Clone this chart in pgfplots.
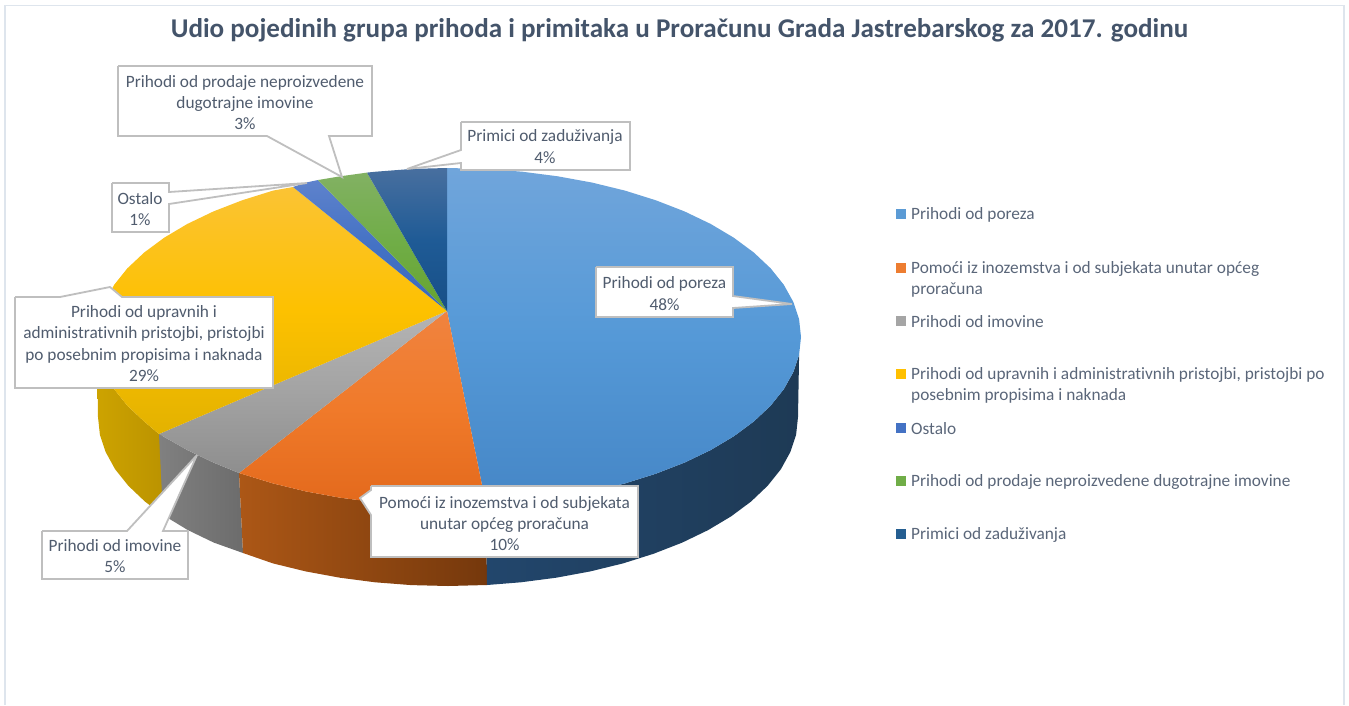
\documentclass[border=0pt]{standalone}
\usepackage{pgfplots}
\pgfplotsset{compat=1.18}
\usepackage{fontspec}
\setmainfont[Ligatures=NoCommon]{Carlito}
\definecolor{txt}{HTML}{505C6E}
\definecolor{ttl}{HTML}{44546A}
\definecolor{leg}{HTML}{5A6679}
\definecolor{cal}{HTML}{BFBFBF}
\definecolor{frm}{HTML}{DEE5ED}
\definecolor{wYl}{HTML}{CDA300}\definecolor{wYr}{HTML}{BB9300}
\definecolor{wGl}{HTML}{808080}\definecolor{wGr}{HTML}{6C6C6C}
\definecolor{wOl}{HTML}{AC5716}\definecolor{wOr}{HTML}{75380C}
\definecolor{wBl}{HTML}{22466C}\definecolor{wBr}{HTML}{1E3A55}
\definecolor{tB1}{HTML}{70A5DB}\definecolor{tB2}{HTML}{5599D7}\definecolor{tB3}{HTML}{4586C6}
\definecolor{tO1}{HTML}{F0833F}\definecolor{tO2}{HTML}{F07A2A}\definecolor{tO3}{HTML}{E3691C}
\definecolor{tG1}{HTML}{B4B4B4}\definecolor{tG2}{HTML}{A3A3A3}\definecolor{tG3}{HTML}{8E8E8E}
\definecolor{tY1}{HTML}{FBC334}\definecolor{tY2}{HTML}{FDC100}\definecolor{tY3}{HTML}{E3B200}
\definecolor{tS1}{HTML}{5E82CC}\definecolor{tS2}{HTML}{4472C4}\definecolor{tS3}{HTML}{3A67BC}
\definecolor{tN1}{HTML}{82B163}\definecolor{tN2}{HTML}{70AD47}\definecolor{tN3}{HTML}{66A32F}
\definecolor{tD1}{HTML}{486F9F}\definecolor{tD2}{HTML}{1F5B96}\definecolor{tD3}{HTML}{174F87}
\definecolor{mB}{HTML}{5B9BD5}\definecolor{mO}{HTML}{ED7D31}\definecolor{mG}{HTML}{A5A5A5}
\definecolor{mY}{HTML}{FFC000}\definecolor{mS}{HTML}{4472C4}\definecolor{mN}{HTML}{70AD47}\definecolor{mD}{HTML}{255E91}
\pgfplotsset{wedge/.style={no markers, draw=none},
  callout/.style={no markers, fill=white, draw=cal, line width=1.8pt, line join=miter, miter limit=3}}
\tikzset{lab/.style={text=txt, inner sep=0pt, align=center, font=\fontsize{17.3}{21.3}\selectfont},
  lgd/.style={text=leg, inner sep=0pt, align=left, anchor=west, font=\fontsize{17.3}{21.3}\selectfont}}
\begin{document}
\begin{tikzpicture}
\begin{axis}[
  scale only axis, width=1349pt, height=705pt,
  xmin=0, xmax=1349, ymin=0, ymax=705, y dir=reverse,
  hide axis, clip=true,
]
% page extent
\addplot[no markers, draw=white, line width=0.1pt] coordinates {(0,0) (1349,705)};
% frame
\addplot[no markers, draw=frm, line width=1.8pt] coordinates {(5,705) (5,5.5) (1344,5.5) (1344,705)};
% --- side walls ---
\addplot[wedge, left color=wYl, right color=wYr] coordinates {
 (159,434) (144.2,421.5) (127.4,405.7) (114.2,389.2) (104.7,372.1) (98.9,354.7) (97,345)
 (98,417) (99.9,434.7) (105.7,452.1) (115.1,469.2) (128.3,485.7) (144.9,501.5) (163,515) (163,434) (159,434)};
\addplot[wedge, left color=wGl, right color=wGr] coordinates {
 (159,434) (187.4,450.1) (213.5,462.6) (239,473) (243,553) (213.8,542.6) (187.9,530.1) (163,515) (159,434)};
\addplot[wedge, left color=wOl, right color=wOr] coordinates {
 (239,473) (273,483.4) (305.8,491.4) (340.2,497.7) (375.8,502.3) (412.2,505.1) (449,506) (486,505)
 (487,585) (448,586) (411.4,585.1) (375.2,582.3) (339.9,577.7) (305.7,571.4) (273,563.4) (243,553) (239,473)};
\addplot[wedge, left color=wBl, right color=wBr] coordinates {
 (486,505) (522.2,502.3) (557.8,497.7) (592.2,491.4) (625,483.4) (655.9,473.7) (684.5,462.6) (710.6,450.1)
 (733.8,436.3) (753.8,421.5) (770.6,405.7) (783.8,389.2) (793.3,372.1) (799.1,354.7)
 (798,417) (796.1,434.7) (790.3,452.1) (780.9,469.2) (767.7,485.7) (751.1,501.5) (731.2,516.3) (708.1,530.1)
 (682.2,542.6) (653.7,553.7) (623,563.4) (590.3,571.4) (556.2,577.7) (520.8,582.3) (487,585) (486,505)};
% --- top faces ---
\addplot[wedge, top color=tB1, bottom color=tB3, middle color=tB2] coordinates {
 (447,311) (447,168) (485.8,168.9) (522.2,171.7) (557.8,176.3) (592.2,182.6) (625,190.6) (655.9,200.3) (684.5,211.4)
 (710.6,223.9) (733.8,237.7) (753.8,252.5) (770.6,268.3) (783.8,284.8) (793.3,301.9) (799.1,319.3) (801,337)
 (799.1,354.7) (793.3,372.1) (783.8,389.2) (770.6,405.7) (753.8,421.5) (733.8,436.3) (710.6,450.1) (684.5,462.6)
 (655.9,473.7) (625,483.4) (592.2,491.4) (557.8,497.7) (522.2,502.3) (486,505) (447,311)};
\addplot[wedge, top color=tO1, bottom color=tO3, middle color=tO2] coordinates {
 (447,311) (486,505) (449,506) (412.2,505.1) (375.8,502.3) (340.2,497.7) (305.8,491.4) (273,483.4) (239,473) (447,311)};
\addplot[wedge, top color=tG1, bottom color=tG3, middle color=tG2] coordinates {
 (447,311) (239,473) (213.5,462.6) (187.4,450.1) (159,434) (447,311)};
\addplot[wedge, top color=tY1, bottom color=tY3, middle color=tY2] coordinates {
 (447,311) (159,434) (144.2,421.5) (127.4,405.7) (114.2,389.2) (104.7,372.1) (98.9,354.7) (97,337) (98.9,319.3)
 (104.7,301.9) (114.2,284.8) (127.4,268.3) (144.2,252.5) (164.2,237.7) (187.4,223.9) (213.5,211.4) (242.1,200.3)
 (273,190.6) (293,187) (447,311)};
\addplot[wedge, top color=tS1, bottom color=tS3, middle color=tS2] coordinates {
 (447,311) (293,187) (305.8,182.6) (318,180) (447,311)};
\addplot[wedge, top color=tN1, bottom color=tN3, middle color=tN2] coordinates {
 (447,311) (318,180) (340.2,176.3) (367,172.6) (447,311)};
\addplot[wedge, top color=tD1, bottom color=tD3, middle color=tD2] coordinates {
 (447,311) (367,172.6) (375.8,171.7) (412.2,168.9) (447,168) (447,311)};
% --- callouts ---
\addplot[callout] coordinates {(118,66) (372,66) (372,136) (329,136) (342,177) (267,136) (118,136) (118,66)};
\addplot[callout] coordinates {(461,122) (630,122) (630,170) (461,170) (461,163) (407,169) (461,150) (461,122)};
\addplot[callout] coordinates {(112,183) (169,183) (169,192) (307,183) (169,204) (169,232) (112,232) (112,183)};
\addplot[callout] coordinates {(15,297) (60,297) (110,287) (122,297) (273,297) (273,388) (15,388) (15,297)};
\addplot[callout] coordinates {(42,531) (127,531) (197,455) (163,531) (188,531) (188,579) (42,579) (42,531)};
\addplot[callout] coordinates {(371,486) (638,486) (638,557) (371,557) (371,515) (360,498) (371,490) (371,486)};
\addplot[callout] coordinates {(596,267) (733,267) (733,296) (792,304) (733,308) (733,317) (596,317) (596,267)};
% --- legend keys ---
\addplot[only marks, mark=square*, mark size=4.5pt, mark options={draw=mB, fill=mB, line width=0pt}] coordinates {(901,214)};
\addplot[only marks, mark=square*, mark size=4.5pt, mark options={draw=mO, fill=mO, line width=0pt}] coordinates {(901,268)};
\addplot[only marks, mark=square*, mark size=4.5pt, mark options={draw=mG, fill=mG, line width=0pt}] coordinates {(901,321)};
\addplot[only marks, mark=square*, mark size=4.5pt, mark options={draw=mY, fill=mY, line width=0pt}] coordinates {(901,374)};
\addplot[only marks, mark=square*, mark size=4.5pt, mark options={draw=mS, fill=mS, line width=0pt}] coordinates {(901,428)};
\addplot[only marks, mark=square*, mark size=4.5pt, mark options={draw=mN, fill=mN, line width=0pt}] coordinates {(901,481)};
\addplot[only marks, mark=square*, mark size=4.5pt, mark options={draw=mD, fill=mD, line width=0pt}] coordinates {(901,534)};
% --- title ---
\node[text=ttl, inner sep=0pt, font=\fontsize{27.1}{30}\selectfont\bfseries] at (axis cs:679.5,30) {Udio pojedinih grupa prihoda i primitaka u Proračunu Grada Jastrebarskog za 2017. godinu};
% --- data labels ---
\node[lab] at (axis cs:245,102.5) {Prihodi od prodaje neproizvedene\\dugotrajne imovine\\3\%};
\node[lab] at (axis cs:545,146.5) {Primici od zaduživanja\\4\%};
\node[lab] at (axis cs:140,209) {Ostalo\\1\%};
\node[lab] at (axis cs:144,343.5) {Prihodi od upravnih i\\administrativnih pristojbi, pristojbi\\po posebnim propisima i naknada\\29\%};
\node[lab] at (axis cs:115,556) {Prihodi od imovine\\5\%};
\node[lab] at (axis cs:504.5,523.5) {Pomoći iz inozemstva i od subjekata\\unutar općeg proračuna\\10\%};
\node[lab] at (axis cs:664.5,293.5) {Prihodi od poreza\\48\%};
% --- legend text ---
\node[lgd] at (axis cs:911,215) {Prihodi od poreza};
\node[lgd] at (axis cs:911,279.5) {Pomoći iz inozemstva i od subjekata unutar općeg\\proračuna};
\node[lgd] at (axis cs:911,322) {Prihodi od imovine};
\node[lgd] at (axis cs:911,385.5) {Prihodi od upravnih i administrativnih pristojbi, pristojbi po\\posebnim propisima i naknada};
\node[lgd] at (axis cs:911,429) {Ostalo};
\node[lgd] at (axis cs:911,482) {Prihodi od prodaje neproizvedene dugotrajne imovine};
\node[lgd] at (axis cs:911,535) {Primici od zaduživanja};
\end{axis}
\end{tikzpicture}
\end{document}
